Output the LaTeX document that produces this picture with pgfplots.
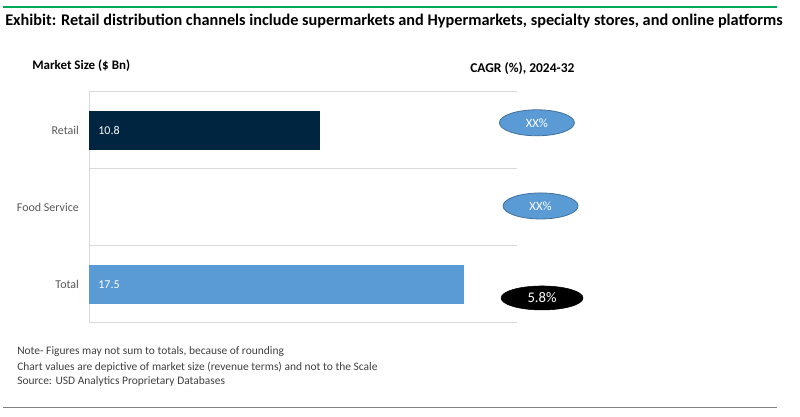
\documentclass[border=0pt]{standalone}
\usepackage{fontspec}
\setmainfont{Carlito}
\usepackage{pgfplots}
\pgfplotsset{compat=1.18}
\usetikzlibrary{shapes.geometric}
\definecolor{navy}{RGB}{0,37,64}
\definecolor{lblue}{RGB}{91,155,213}
\definecolor{eborder}{RGB}{65,113,156}
\definecolor{grn}{RGB}{0,168,89}
\definecolor{gridc}{RGB}{217,217,217}
\definecolor{tickc}{RGB}{89,89,89}
\definecolor{notec}{RGB}{64,64,64}
\begin{document}
\begin{tikzpicture}
\useasboundingbox (0,0) rectangle (600pt,312.75pt);
% header and footer
\draw[grn, line width=1.5pt] (2.25pt,307.5pt) -- (582.75pt,307.5pt);
\node[anchor=west, inner sep=0, font=\fontsize{12.2}{14}\selectfont\bfseries] at (3.75pt,297pt)
  {Exhibit: Retail distribution channels include supermarkets and Hypermarkets, specialty stores, and online platforms};
\node[anchor=west, inner sep=0, font=\fontsize{9.75}{11}\selectfont\bfseries] at (24pt,263.25pt) {Market Size (\$ Bn)};
\node[anchor=west, inner sep=0, font=\fontsize{10.1}{11}\selectfont\bfseries] at (352.5pt,261pt) {CAGR (\%), 2024-32};
\begin{scope}[font=\fontsize{8.6}{10}\selectfont, text=notec]
\node[anchor=west, inner sep=0] at (12.75pt,48.75pt) {Note- Figures may not sum to totals, because of rounding};
\node[anchor=west, inner sep=0] at (12.75pt,37.5pt) {Chart values are depictive of market size (revenue terms) and not to the Scale};
\node[anchor=west, inner sep=0] at (12.75pt,27pt) {Source: USD Analytics Proprietary Databases};
\end{scope}
\draw[gray, line width=0.75pt] (2.25pt,6.75pt) -- (582.75pt,6.75pt);

\begin{axis}[
  at={(66.75pt,70.5pt)}, anchor=south west,
  scale only axis, width=321pt, height=173.25pt,
  xmin=0, xmax=20, ymin=-0.5, ymax=2.5, y dir=reverse,
  xtick=\empty, ytick={0,1,2}, yticklabels={Retail, Food Service, Total},
  minor ytick={-0.5,0.5,1.5,2.5}, yminorgrids,
  minor grid style={gridc, line width=0.75pt},
  major tick length=0, minor tick length=0,
  axis line style={draw=none},
  yticklabel style={font=\fontsize{9}{11}\selectfont, text=tickc, xshift=-4pt},
  clip=false,
]
\draw[gridc, line width=0.75pt] (axis cs:0,-0.5) -- (axis cs:0,2.5) -- (axis cs:20,2.5);
% market size bars
\addplot[xbar, bar width=0.5, bar shift=0pt, fill=navy, draw=none] coordinates {(10.8,0)};
\addplot[xbar, bar width=0.5, bar shift=0pt, fill=lblue, draw=none] coordinates {(17.5,2)};
% labels inside bars
\addplot[mark=none, draw=none, nodes near coords, point meta=explicit symbolic,
  every node near coord/.style={anchor=west, xshift=3.5pt, text=white, font=\fontsize{9}{11}\selectfont}]
  coordinates {(0,0)[10.8] (0,2)[17.5]};
% CAGR ellipses
\addplot[mark=none, draw=none, nodes near coords, point meta=explicit symbolic,
  every node near coord/.style={anchor=center, ellipse, fill=lblue, draw=eborder, line width=0.6pt,
    minimum width=56.25pt, minimum height=19.5pt, inner sep=0, text=white, font=\fontsize{9.5}{11}\selectfont}]
  coordinates {(20.93,-0.1)[XX\%] (21.1,0.98)[XX\%]};
\addplot[mark=none, draw=none, nodes near coords, point meta=explicit symbolic,
  every node near coord/.style={anchor=center, ellipse, fill=black, draw=black,
    minimum width=61.5pt, minimum height=18pt, inner sep=0, text=white, font=\fontsize{11}{13}\selectfont}]
  coordinates {(21.17,2.175)[5.8\%]};
\end{axis}
\end{tikzpicture}
\end{document}
